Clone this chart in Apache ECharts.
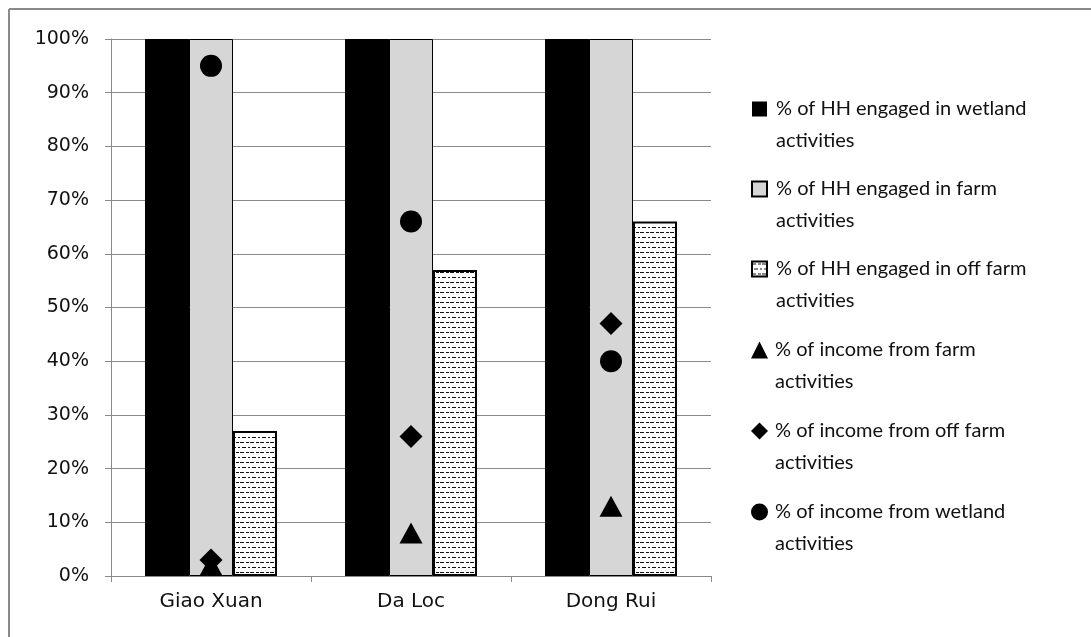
<!DOCTYPE html>
<html>
<head>
<meta charset="utf-8">
<title>Household engagement and income sources by commune</title>
<script src="https://cdn.jsdelivr.net/npm/echarts@6/dist/echarts.min.js"></script>
<style>
  html, body { margin: 0; padding: 0; background: #ffffff; }
  #chart { width: 1091px; height: 637px; }
</style>
</head>
<body>
<div id="chart"></div>
<script>
// Communes on the x axis
const communes = ['Giao Xuan', 'Da Loc', 'Dong Rui'];

// Share of households engaged in each activity (%)
const hhWetland = [100, 100, 100];
const hhFarm = [100, 100, 100];
const hhOffFarm = [27, 57, 66];

// Share of household income by source (%)
const incomeFarm = [2, 8, 13];
const incomeOffFarm = [3, 26, 47];
const incomeWetland = [95, 66, 40];

// Y axis ticks
const yTicks = [0, 10, 20, 30, 40, 50, 60, 70, 80, 90, 100];

const seriesNames = [
  '% of HH engaged in wetland activities',
  '% of HH engaged in farm activities',
  '% of HH engaged in off farm activities',
  '% of income from farm activities',
  '% of income from off farm activities',
  '% of income from wetland activities'
];

// Dashed-line hatch used for the off-farm bars
function makeHatch() {
  const c = document.createElement('canvas');
  c.width = 10; c.height = 10;
  const g = c.getContext('2d');
  g.fillStyle = '#ffffff';
  g.fillRect(0, 0, 10, 10);
  g.fillStyle = '#111111';
  g.fillRect(0, 2, 4, 1);
  g.fillRect(6, 2, 3, 1);
  g.fillRect(2, 7, 4, 1);
  g.fillRect(8, 7, 2, 1);
  return c;
}
const hatch = { image: makeHatch(), repeat: 'repeat' };

const LEGEND_FONT = 'Lato';
const AXIS_FONT = 'DejaVu Sans';

// Legend labels: an empty first line keeps the icon level with the first text line
const splitName = n => '\n' + n.replace(' activities', '\nactivities');

const legendText = {
  fontFamily: LEGEND_FONT,
  fontSize: 20,
  color: '#111111',
  lineHeight: 32,
  padding: [0, 0, 0, 4]
};

const chart = echarts.init(document.getElementById('chart'), null, { renderer: 'canvas' });

chart.setOption({
  animation: false,
  backgroundColor: '#ffffff',
  grid: { left: 111, right: 380, top: 39, bottom: 61, containLabel: false },
  graphic: [
    { type: 'line', shape: { x1: 9, y1: 9, x2: 1091, y2: 9 }, style: { stroke: '#8a8a8a', lineWidth: 2 }, silent: true },
    { type: 'line', shape: { x1: 9, y1: 9, x2: 9, y2: 637 }, style: { stroke: '#8a8a8a', lineWidth: 2 }, silent: true }
  ],
  legend: [
    {
      orient: 'vertical',
      left: 746,
      top: 56,
      icon: 'rect',
      itemWidth: 15,
      itemHeight: 15,
      itemGap: -16,
      selectedMode: false,
      data: seriesNames.slice(0, 3),
      formatter: splitName,
      textStyle: legendText
    },
    {
      orient: 'vertical',
      left: 746,
      top: 297,
      itemWidth: 17,
      itemHeight: 17,
      itemGap: -15,
      selectedMode: false,
      data: seriesNames.slice(3),
      formatter: splitName,
      textStyle: Object.assign({}, legendText, { padding: [0, 0, 0, 2] })
    }
  ],
  xAxis: {
    type: 'category',
    data: communes,
    axisLine: { show: true, lineStyle: { color: '#8a8a8a', width: 1 } },
    axisTick: { show: true, length: 6, lineStyle: { color: '#8a8a8a' } },
    axisLabel: { fontFamily: AXIS_FONT, fontSize: 20, color: '#111111', margin: 16 },
    splitLine: { show: false }
  },
  yAxis: {
    type: 'value',
    min: 0,
    max: 100,
    interval: 10,
    axisLine: { show: true, lineStyle: { color: '#8a8a8a', width: 1 } },
    axisTick: { show: true, length: 6, lineStyle: { color: '#8a8a8a' } },
    axisLabel: {
      fontFamily: AXIS_FONT, fontSize: 19, color: '#111111', margin: 22,
      formatter: v => (yTicks.indexOf(v) >= 0 ? v + '%' : '')
    },
    splitLine: { show: true, lineStyle: { color: '#8a8a8a', width: 1 } }
  },
  series: [
    {
      name: seriesNames[0], type: 'bar', data: hhWetland,
      barWidth: 44, barGap: '0%',
      itemStyle: { color: '#000000' }
    },
    {
      name: seriesNames[1], type: 'bar', data: hhFarm,
      barWidth: 44, barGap: '0%',
      itemStyle: { color: '#d6d6d6', borderColor: '#000000', borderWidth: 1 }
    },
    {
      name: seriesNames[2], type: 'bar', data: hhOffFarm,
      barWidth: 44, barGap: '0%',
      itemStyle: { color: hatch, borderColor: '#000000', borderWidth: 2 }
    },
    {
      name: seriesNames[3], type: 'scatter', data: incomeFarm,
      symbol: 'triangle', symbolSize: [23, 21],
      itemStyle: { color: '#000000', opacity: 1 }, z: 5
    },
    {
      name: seriesNames[4], type: 'scatter', data: incomeOffFarm,
      symbol: 'diamond', symbolSize: 23,
      itemStyle: { color: '#000000', opacity: 1 }, z: 5
    },
    {
      name: seriesNames[5], type: 'scatter', data: incomeWetland,
      symbol: 'circle', symbolSize: 22,
      itemStyle: { color: '#000000', opacity: 1 }, z: 5
    }
  ]
});
</script>
</body>
</html>
